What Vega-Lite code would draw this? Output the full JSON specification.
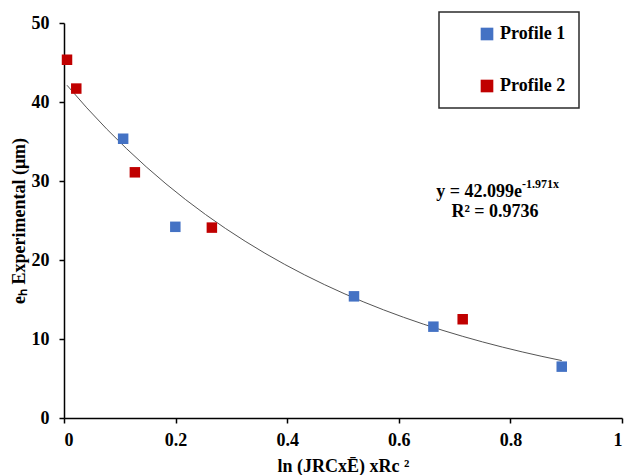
{
  "$schema": "https://vega.github.io/schema/vega-lite/v6.json",
  "width": 558,
  "height": 395,
  "autosize": {"type": "none"},
  "padding": {"left": 64, "top": 23, "right": 3, "bottom": 57},
  "background": "white",
  "config": {
    "view": {"stroke": null},
    "font": "Liberation Serif",
    "legend": {"strokeColor": "#2b2b2b", "strokeWidth": 1.5, "fillColor": "white"},
    "axis": {
      "grid": false,
      "domainColor": "#000000",
      "domainWidth": 1.5,
      "tickColor": "#000000",
      "tickWidth": 1.5,
      "tickSize": 5,
      "labelFont": "Liberation Serif",
      "labelFontSize": 18,
      "labelFontWeight": "bold",
      "labelColor": "#000000",
      "titleFont": "Liberation Serif",
      "titleFontSize": 18,
      "titleFontWeight": "bold",
      "titleColor": "#000000"
    }
  },
  "datasets": {
    "points": [
      {"profile": "Profile 1", "x": 0.106, "eh": 35.35},
      {"profile": "Profile 1", "x": 0.1995, "eh": 24.2},
      {"profile": "Profile 1", "x": 0.5197, "eh": 15.4},
      {"profile": "Profile 1", "x": 0.662, "eh": 11.56},
      {"profile": "Profile 1", "x": 0.892, "eh": 6.5},
      {"profile": "Profile 2", "x": 0.0054, "eh": 45.35},
      {"profile": "Profile 2", "x": 0.022, "eh": 41.7},
      {"profile": "Profile 2", "x": 0.127, "eh": 31.1},
      {"profile": "Profile 2", "x": 0.265, "eh": 24.1},
      {"profile": "Profile 2", "x": 0.7145, "eh": 12.5}
    ]
  },
  "layer": [
    {
      "data": {"name": "points"},
      "transform": [{"regression": "eh", "on": "x", "method": "exp"}],
      "mark": {"type": "line", "color": "#555555", "strokeWidth": 1},
      "encoding": {
        "x": {
          "field": "x", "type": "quantitative",
          "scale": {"domain": [0, 1], "nice": false, "zero": false},
          "axis": {"values": [0, 0.2, 0.4, 0.6, 0.8, 1], "format": "~g", "labelPadding": 8, "titlePadding": 8, "title": "ln (JRCxĒ) xRc ²"}
        },
        "y": {
          "field": "eh", "type": "quantitative",
          "scale": {"domain": [0, 50], "nice": false},
          "axis": {"values": [0, 10, 20, 30, 40, 50], "labelPadding": 10, "titlePadding": 3, "title": "eₕ Experimental (μm)"}
        }
      }
    },
    {
      "data": {"name": "points"},
      "mark": {"type": "square", "size": 110, "opacity": 1},
      "encoding": {
        "x": {"field": "x", "type": "quantitative", "title": "ln (JRCxĒ) xRc ²"},
        "y": {"field": "eh", "type": "quantitative", "title": "eₕ Experimental (μm)"},
        "color": {
          "field": "profile", "type": "nominal",
          "scale": {"domain": ["Profile 1", "Profile 2"], "range": ["#4472C4", "#C00000"]},
          "legend": {
            "title": null,
            "orient": "none",
            "legendX": 375,
            "legendY": -11,
            "padding": 13,
            "rowPadding": 34,
            "symbolType": "square",
            "symbolSize": 160,
            "symbolOffset": 26,
            "symbolStrokeWidth": 0,
            "labelOffset": 4,
            "labelFont": "Liberation Serif",
            "labelFontSize": 18,
            "labelFontWeight": "bold",
            "labelColor": "#000000"
          }
        }
      }
    },
    {
      "data": {"values": [{}]},
      "mark": {"type": "text", "text": "y = 42.099e", "align": "right", "baseline": "alphabetic", "font": "Liberation Serif", "fontSize": 18, "fontWeight": "bold", "color": "#000000"},
      "encoding": {"x": {"datum": 0.8208, "type": "quantitative"}, "y": {"datum": 28.0, "type": "quantitative"}}
    },
    {
      "data": {"values": [{}]},
      "mark": {"type": "text", "text": "-1.971x", "align": "left", "baseline": "alphabetic", "font": "Liberation Serif", "fontSize": 12, "fontWeight": "bold", "color": "#000000"},
      "encoding": {"x": {"datum": 0.8208, "type": "quantitative"}, "y": {"datum": 29.15, "type": "quantitative"}}
    },
    {
      "data": {"values": [{}]},
      "mark": {"type": "text", "text": "R² = 0.9736", "align": "center", "baseline": "alphabetic", "font": "Liberation Serif", "fontSize": 18, "fontWeight": "bold", "color": "#000000"},
      "encoding": {"x": {"datum": 0.7724, "type": "quantitative"}, "y": {"datum": 25.47, "type": "quantitative"}}
    }
  ]
}
